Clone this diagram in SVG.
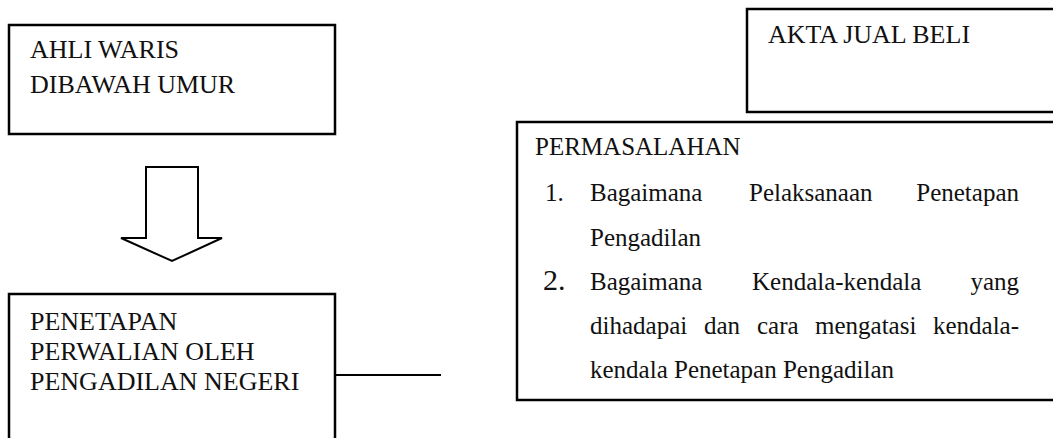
<svg xmlns="http://www.w3.org/2000/svg" width="1053" height="438" viewBox="0 0 1053 438">
<style>
.box{fill:#fff;stroke:#000;stroke-width:2.5}
.t{font-family:"Liberation Serif","Times New Roman",serif;font-size:25px;fill:#111}
.c{font-size:26px}
.big{font-size:30px}
.conn{fill:none;stroke:#000;stroke-width:2}
</style>
<rect width="1053" height="438" fill="#fff"/>
<g id="ahli-waris">
<rect class="box" x="9" y="25" width="326" height="109"/>
<text class="t c" x="30" y="58">AHLI WARIS</text>
<text class="t c" x="30" y="93">DIBAWAH UMUR</text>
</g>
<g id="penetapan">
<rect class="box" x="9" y="294" width="326" height="160"/>
<text class="t c" x="30" y="330">PENETAPAN</text>
<text class="t c" x="30" y="360">PERWALIAN OLEH</text>
<text class="t c" x="30" y="390">PENGADILAN NEGERI</text>
</g>
<g id="akta">
<rect class="box" x="747" y="9" width="320" height="103"/>
<text class="t c" x="768" y="43">AKTA JUAL BELI</text>
</g>
<g id="permasalahan">
<rect class="box" x="517" y="122" width="550" height="278"/>
<text class="t" x="535" y="155">PERMASALAHAN</text>
<text class="t" x="545" y="201">1.</text>
<text class="t" x="590" y="201">Bagaimana</text>
<text class="t" x="749" y="201">Pelaksanaan</text>
<text class="t" x="1019" y="201" text-anchor="end">Penetapan</text>
<text class="t" x="590" y="246">Pengadilan</text>
<text class="t big" x="543" y="290">2.</text>
<text class="t" x="590" y="290">Bagaimana</text>
<text class="t" x="752" y="290">Kendala-kendala</text>
<text class="t" x="1019" y="290" text-anchor="end">yang</text>
<text class="t" x="590" y="334">dihadapai</text>
<text class="t" x="704" y="334">dan</text>
<text class="t" x="757" y="334">cara</text>
<text class="t" x="815" y="334">mengatasi</text>
<text class="t" x="1019" y="334" text-anchor="end">kendala-</text>
<text class="t" x="590" y="378">kendala Penetapan Pengadilan</text>
</g>
<g id="connectors">
<path class="conn" d="M146,167 H198 V238 H222 L172,261 L121,238 H146 Z" fill="#fff"/>
<line class="conn" x1="335" y1="375" x2="441" y2="375"/>
</g>
</svg>
